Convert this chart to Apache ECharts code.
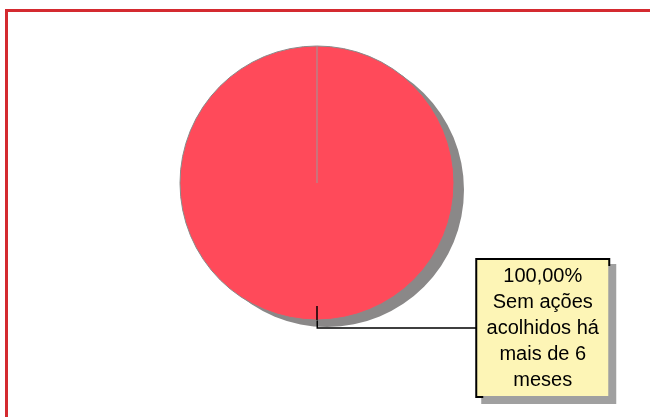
<!DOCTYPE html>
<html><head><meta charset="utf-8">
<script src="https://cdn.jsdelivr.net/npm/echarts@6/dist/echarts.min.js"></script>
<style>html,body{margin:0;padding:0;background:#fff}#c{width:650px;height:417px}</style>
</head><body><div id="c"></div>
<script>
const categories = ['Sem ações acolhidos há mais de 6 meses'];
const values = [100];
const labelLines = ['100,00%', 'Sem ações', 'acolhidos há', 'mais de 6', 'meses'];

const CX = 317, CY = 183, R = 137;
const pieData = categories.map((n, i) => ({name: n, value: values[i]}));
const chart = echarts.init(document.getElementById('c'), null, {renderer: 'canvas'});
chart.setOption({
  animation: false,
  backgroundColor: '#ffffff',
  graphic: [
    {type: 'rect', shape: {x: 6.5, y: 10.5, width: 700, height: 500}, style: {fill: 'none', stroke: '#d42a30', lineWidth: 3}, z: 10},
    {type: 'line', shape: {x1: CX, y1: CY - R, x2: CX, y2: CY}, style: {stroke: '#9a9a9a', lineWidth: 1}, z: 10},
    {type: 'line', shape: {x1: CX, y1: CY + R - 14, x2: CX, y2: CY + R}, style: {stroke: '#000', lineWidth: 1.5}, z: 10}
  ],
  series: [{
    type: 'pie',
    silent: true,
    z: 1,
    center: [CX + 10, CY + 7],
    radius: R,
    startAngle: 90.1,
    label: {show: false},
    labelLine: {show: false},
    emphasis: {disabled: true},
    itemStyle: {color: '#8a8888', borderWidth: 0},
    data: pieData
  }, {
    type: 'pie',
    z: 2,
    center: [CX, CY],
    radius: R,
    startAngle: 90.1,
    clockwise: true,
    avoidLabelOverlap: false,
    emphasis: {disabled: true},
    itemStyle: {color: '#ff4a5a', borderColor: '#8a8a8a', borderWidth: 1},
    labelLine: {show: true, length: 8, length2: 160, smooth: false, lineStyle: {color: '#000', width: 1.5}},
    label: {
      show: true,
      position: 'outside',
      distanceToLabelLine: 0,
      formatter: () => labelLines.map(l => '{c|' + l + '}').join('\n'),
      backgroundColor: '#fdf5b6',
      borderColor: '#000',
      borderWidth: 2,
      padding: [3, 8, 3, 8],
      width: 115,
      shadowColor: '#a0a0a0',
      shadowBlur: 0,
      shadowOffsetX: 6,
      shadowOffsetY: 6,
      rich: {
        c: {fontFamily: 'Liberation Sans, Arial, sans-serif', fontSize: 20, lineHeight: 26, color: '#000', align: 'center', width: 115}
      }
    },
    data: pieData
  }]
});
</script></body></html>
